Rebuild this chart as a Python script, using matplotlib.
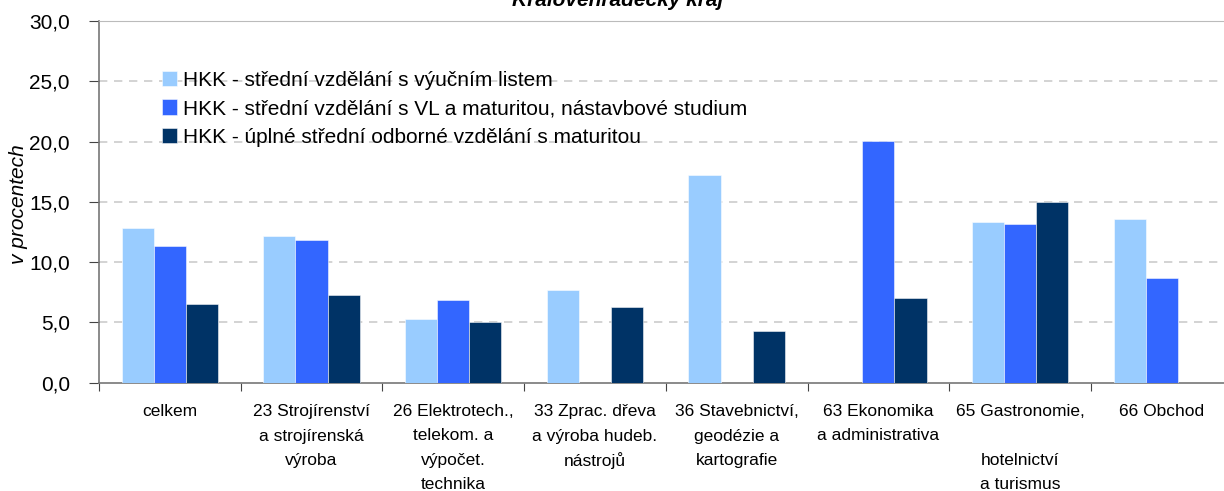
import matplotlib.pyplot as plt
import numpy as np
from matplotlib import font_manager

# data
categories = ["celkem",
              "23 Strojírenství\na strojírenská\nvýroba",
              "26 Elektrotech.,\ntelekom. a\nvýpočet.\ntechnika",
              "33 Zprac. dřeva\na výroba hudeb.\nnástrojů",
              "36 Stavebnictví,\ngeodézie a\nkartografie",
              "63 Ekonomika\na administrativa",
              "65 Gastronomie,\n\nhotelnictví\na turismus",
              "66 Obchod"]
series_names = ["HKK - střední vzdělání s výučním listem",
                "HKK - střední vzdělání s VL a maturitou, nástavbové studium",
                "HKK - úplné střední odborné vzdělání s maturitou"]
vyucni = [12.8, 12.2, 5.3, 7.7, 17.2, np.nan, 13.3, 13.6]
vl_maturita = [11.35, 11.85, 6.85, np.nan, np.nan, 20.05, 13.2, 8.7]
maturita = [6.5, 7.3, 5.05, 6.3, 4.3, 7.0, 15.0, np.nan]
colors = ["#99CCFF", "#3366FF", "#003366"]
yticks = [0, 5, 10, 15, 20, 25, 30]

names = {f.name for f in font_manager.fontManager.ttflist}
base_font = "Liberation Sans" if "Liberation Sans" in names else "DejaVu Sans"
narrow_font = "Liberation Sans Narrow" if "Liberation Sans Narrow" in names else base_font
plt.rcParams['font.family'] = [base_font, 'DejaVu Sans']

fig = plt.figure(figsize=(12.24, 4.91), dpi=100)
ax = fig.add_axes([99 / 1224, 1 - 382.7 / 491, 8 * 141.7 / 1224, (382.7 - 21) / 491])

x = np.arange(len(categories)) + 0.5
w = 0.227
for i, (vals, c, name) in enumerate(zip([vyucni, vl_maturita, maturita], colors, series_names)):
    ax.bar(x + (i - 1) * w, vals, width=w, color=c, label=name,
           edgecolor=(1, 1, 1, 0.6), linewidth=0.6, zorder=3)

ax.set_xlim(0, len(categories))
ax.set_ylim(0, 30)
ax.set_yticks(yticks)
ax.set_yticklabels([f"{v:.1f}".replace(".", ",") for v in yticks], fontsize=15)
ax.set_xticks(np.arange(len(categories) + 1))
ax.set_xticklabels([])
ax.tick_params(axis='x', which='major', length=6, color='#444444')
ax.tick_params(axis='y', length=7, color='#444444', pad=14)

# category labels, one line at a time so the spacing stays even
for xc, label in zip(x, categories):
    for j, line in enumerate(label.split("\n")):
        ax.annotate(line, xy=(xc, 0), xycoords=('data', 'axes fraction'),
                    xytext=(0, -(29 + 24.3 * j)), textcoords='offset pixels',
                    ha='center', va='center', fontsize=12.5,
                    family=[narrow_font, 'DejaVu Sans'], annotation_clip=False)

for v in yticks[1:-1]:
    ax.axhline(v, color='#cccccc', linestyle=(0, (5, 4)), linewidth=1.2, zorder=1)

ax.spines['top'].set_color('#bbbbbb')
ax.spines['right'].set_visible(False)
ax.spines['left'].set_color('#777777')
ax.spines['left'].set_linewidth(1.2)
ax.spines['bottom'].set_color('#777777')
ax.spines['bottom'].set_linewidth(1.2)

ax.set_ylabel("v procentech", fontsize=15, style='italic')
ax.yaxis.set_label_coords((28 - 99) / 1133.6, (382.7 - 204) / 361.7)
fig.text(0.505, 1 - 6 / 491, "Královéhradecký kraj", fontsize=15, fontweight='bold',
         style='italic', ha='center', va='baseline')

ax.legend(loc='upper left', bbox_to_anchor=(0.048, 0.885), frameon=False, fontsize=15,
          handlelength=0.75, handleheight=0.75, handletextpad=0.25, labelspacing=0.45,
          borderaxespad=0)

fig.savefig("out.png", dpi=100)
